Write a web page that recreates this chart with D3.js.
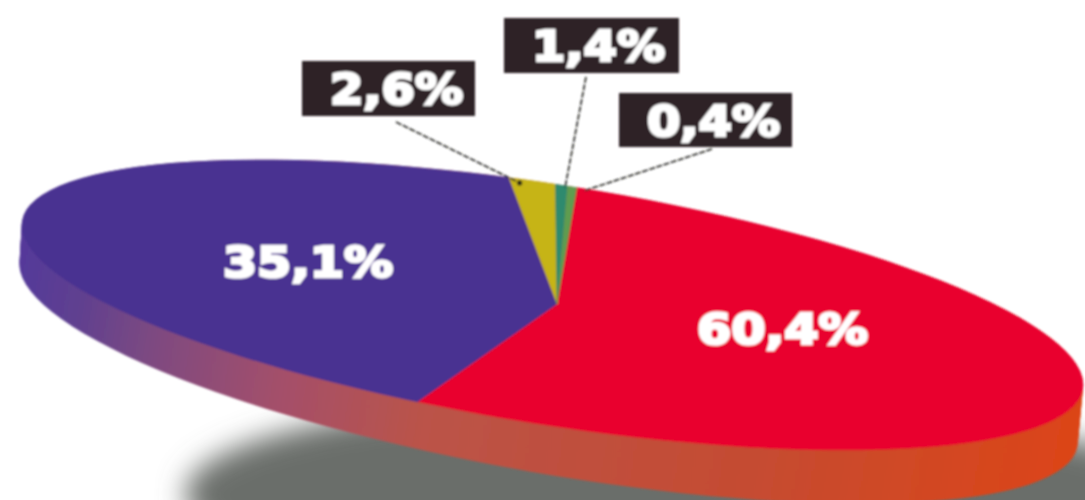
<!DOCTYPE html>
<html>
<head>
<meta charset="utf-8">
<script src="https://cdn.jsdelivr.net/npm/d3@7/dist/d3.min.js"></script>
<style>html,body{margin:0;padding:0;background:#fff;overflow:hidden}svg{display:block}</style>
</head>
<body>
<svg id="c" width="1085" height="500"></svg>
<script>
// Printed labels
const sliceLabels = ["60,4%", "35,1%", "2,6%", "1,4%", "0,4%"];
// Sweep of each slice as drawn in the picture, in degrees (the artwork is not to scale)
const drawnSweeps = [192.9, 159.7, 5.1, 1.35, 1.0];
const sliceColors = ["#e9062e", "#4a3091", "#c6b412", "#2d8a6e", "#5f9c50"];

const W = 1085, H = 500;
const svg = d3.select("#c");
const defs = svg.append("defs");

const TILT = 9, RX = 537, RY = 120, SQUASH = 0.2235;
const CX = 552.5, CY = 305, APEX = [557, 304];
const WALL = 48;

const soft = defs.append("filter").attr("id", "soft");
soft.append("feGaussianBlur").attr("stdDeviation", 0.9);
const blur = defs.append("filter").attr("id", "blur")
  .attr("x", "-10%").attr("y", "-40%").attr("width", "120%").attr("height", "180%");
blur.append("feGaussianBlur").attr("stdDeviation", 14);

const wallGrad = defs.append("linearGradient").attr("id", "wall")
  .attr("gradientUnits", "userSpaceOnUse")
  .attr("x1", -RX).attr("x2", RX).attr("y1", 0).attr("y2", 0);
[[0, "#54399a"], [0.06, "#5f4090"], [0.14, "#7f4a80"], [0.26, "#a4506a"], [0.4, "#bb5348"],
 [0.7, "#c54c32"], [1, "#dc4418"]].forEach(([o, c]) =>
  wallGrad.append("stop").attr("offset", o).attr("stop-color", c));

defs.append("clipPath").attr("id", "face").append("ellipse")
  .attr("rx", RX).attr("ry", RY)
  .attr("transform", `translate(${CX},${CY}) rotate(${TILT})`);

const root = svg.append("g").attr("filter", "url(#soft)");

// Ground shadow
svg.insert("ellipse", "g")
  .attr("rx", 535).attr("ry", 112)
  .attr("transform", "translate(720,512) rotate(2)")
  .attr("fill", "#6a6e6a")
  .attr("filter", "url(#blur)");

// Side wall
root.append("g").selectAll("ellipse")
  .data(d3.range(0, WALL + 1, 2))
  .join("ellipse")
  .attr("rx", RX).attr("ry", RY)
  .attr("transform", d => `translate(${CX - d * 0.08},${CY + d}) rotate(${TILT + d / WALL})`)
  .attr("fill", "url(#wall)");

// Top face
const toRad = d3.scaleLinear().domain([0, 180]).range([0, Math.PI]);
const startDeg = 0.14;
const pie = d3.pie().sort(null).value(d => d.sweep)
  .startAngle(toRad(startDeg)).endAngle(toRad(startDeg + 360));
const rows = sliceLabels.map((label, i) => ({label, sweep: drawnSweeps[i], color: sliceColors[i]}));
const arcs = pie(rows);
const arc = d3.arc().innerRadius(0).outerRadius(760);

const face = root.append("g").attr("clip-path", "url(#face)");
face.append("g")
  .attr("transform", `translate(${APEX[0]},${APEX[1]}) rotate(${TILT}) scale(1,${SQUASH})`)
  .selectAll("path").data(arcs).join("path")
  .attr("d", arc).attr("fill", d => d.data.color)
  .attr("stroke", d => d.data.color).attr("stroke-width", 0.6);

// Project a pie angle + radius to page coordinates
const project = (a, r) => {
  const u = r * Math.sin(a), v = -r * Math.cos(a) * SQUASH;
  const t = toRad(TILT);
  return [APEX[0] + u * Math.cos(t) - v * Math.sin(t), APEX[1] + u * Math.sin(t) + v * Math.cos(t)];
};

// Callouts for slices 2..4
const boxes = [
  {i: 2, x: 302, y: 61, w: 173, h: 55, from: [396, 122], r: 512, shift: -1.5},
  {i: 3, x: 504, y: 18, w: 175, h: 55, from: [586, 77], r: 518, shift: 0.4},
  {i: 4, x: 619, y: 93, w: 173, h: 54, from: [712, 149], r: 518, shift: 1.3}
];
const leaders = root.append("g");
boxes.forEach(b => {
  const d = arcs[b.i];
  const mid = (d.startAngle + d.endAngle) / 2 + toRad(b.shift);
  const end = project(mid, b.r);
  leaders.append("line")
    .attr("x1", b.from[0]).attr("y1", b.from[1]).attr("x2", end[0]).attr("y2", end[1])
    .attr("stroke", "#2e2e2a").attr("stroke-width", 1.7).attr("stroke-dasharray", "6 1.5");
  root.append("rect").attr("x", b.x).attr("y", b.y).attr("width", b.w).attr("height", b.h)
    .attr("fill", "#2d2326");
  label(d.data.label, b.x + 28, b.y + 43, 133);
});
// Small dark mark on the yellow slice
const dotAt = project((arcs[2].startAngle + arcs[2].endAngle) / 2 - toRad(1.5), 512);
root.append("circle").attr("cx", dotAt[0]).attr("cy", dotAt[1]).attr("r", 2.6).attr("fill", "#2a2a18");

// Labels on the face
label(arcs[1].data.label, 223, 277, 170);
label(arcs[0].data.label, 697, 344, 171);

function label(t, x, y, w) {
  root.append("text").text(t)
    .attr("x", x).attr("y", y)
    .attr("textLength", w).attr("lengthAdjust", "spacingAndGlyphs")
    .attr("font-family", "'DejaVu Sans', sans-serif").attr("font-weight", 700)
    .attr("font-size", 42)
    .attr("fill", "#fff").attr("stroke", "#fff").attr("stroke-width", 2.6)
    .attr("paint-order", "stroke");
}
</script>
</body>
</html>
